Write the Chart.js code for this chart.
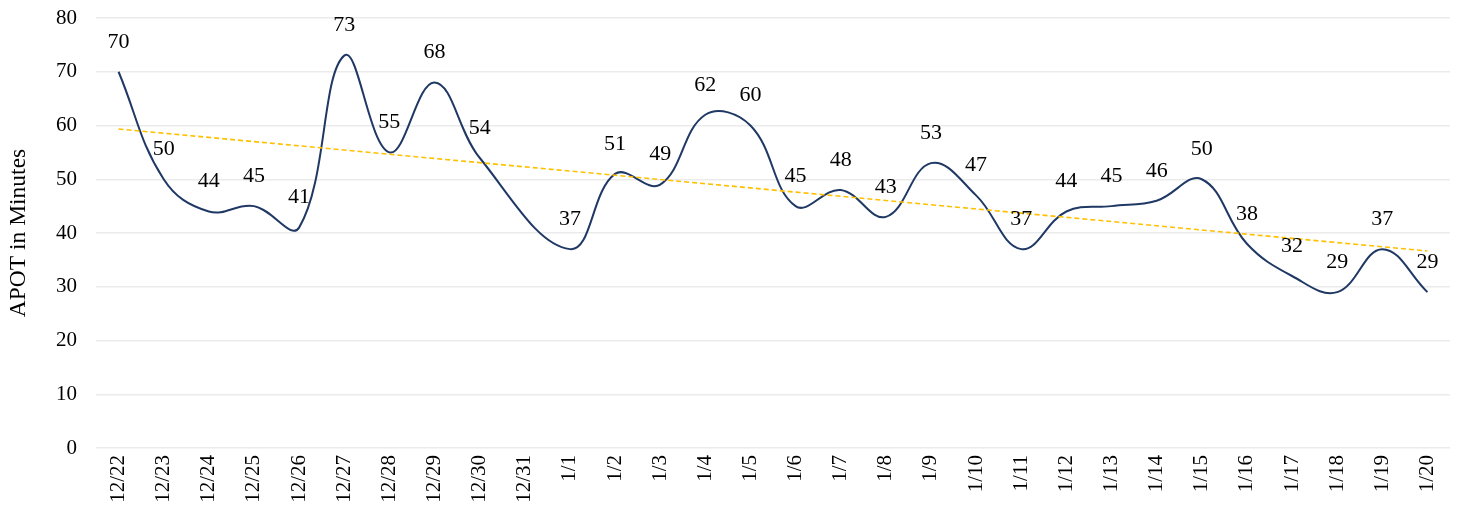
<!DOCTYPE html>
<html>
<head>
<meta charset="utf-8">
<script src="https://cdn.jsdelivr.net/npm/chart.js@4/dist/chart.umd.min.js"></script>
<style>
  html, body { margin: 0; padding: 0; background: #ffffff; }
  #wrap { width: 1459px; height: 508px; position: relative; }
</style>
</head>
<body>
<div id="wrap"><canvas id="c"></canvas></div>
<script>
// ---- data ----
const dates = ["12/22","12/23","12/24","12/25","12/26","12/27","12/28","12/29","12/30","12/31",
               "1/1","1/2","1/3","1/4","1/5","1/6","1/7","1/8","1/9","1/10",
               "1/11","1/12","1/13","1/14","1/15","1/16","1/17","1/18","1/19","1/20"];
const apotMinutes = [70, 50, 44, 45, 41, 73, 55, 68, 54, null,
                     37, 51, 49, 62, 60, 45, 48, 43, 53, 47,
                     37, 44, 45, 46, 50, 38, 32, 29, 37, 29];
const trendEnds = [59.35, 36.65];
const yTicks = [0, 10, 20, 30, 40, 50, 60, 70, 80];

const trendValues = dates.map((_, i) =>
  i === 0 ? trendEnds[0] : (i === dates.length - 1 ? trendEnds[1] : null));

const serif = "'Liberation Serif', 'Times New Roman', serif";

const labelPlugin = {
  id: 'pointLabels',
  afterDatasetsDraw(chart) {
    const meta = chart.getDatasetMeta(1);
    const ctx = chart.ctx;
    ctx.save();
    ctx.font = "22px " + serif;
    ctx.fillStyle = "#000000";
    ctx.textAlign = "center";
    ctx.textBaseline = "middle";
    meta.data.forEach((pt, i) => {
      const v = apotMinutes[i];
      if (v === null || v === undefined) return;
      ctx.fillText(String(v), pt.x, pt.y - 30);
    });
    ctx.restore();
  }
};

new Chart(document.getElementById('c'), {
  type: 'line',
  data: {
    labels: dates,
    datasets: [
      {
        label: 'Trend',
        data: trendValues,
        borderColor: '#FFC000',
        borderWidth: 1.6,
        borderDash: [5, 3],
        pointRadius: 0,
        tension: 0,
        spanGaps: true,
        fill: false
      },
      {
        label: 'APOT',
        data: apotMinutes,
        borderColor: '#1F3864',
        borderWidth: 2,
        pointRadius: 0,
        tension: 0.4,
        spanGaps: true,
        fill: false
      }
    ]
  },
  options: {
    responsive: true,
    maintainAspectRatio: false,
    animation: false,
    layout: { padding: { top: 18, right: 9, bottom: 0, left: 5 } },
    plugins: {
      legend: { display: false },
      tooltip: { enabled: false },
      title: { display: false }
    },
    scales: {
      x: {
        offset: true,
        grid: { display: false, drawTicks: false },
        border: { display: false },
        ticks: {
          minRotation: 90,
          maxRotation: 90,
          autoSkip: false,
          padding: 7,
          color: '#000000',
          font: { family: serif, size: 21 }
        },
        afterFit(scale) {
          scale.height = 60;
          scale.paddingLeft = 0; scale.paddingRight = 0;
          scale.paddingTop = 0; scale.paddingBottom = 0;
        }
      },
      y: {
        min: 0,
        max: 80,
        afterBuildTicks(scale) { scale.ticks = yTicks.map(v => ({ value: v })); },
        grid: { color: '#EBEBEB', lineWidth: 1.5, drawTicks: false },
        border: { display: false },
        ticks: {
          padding: 19,
          color: '#000000',
          font: { family: serif, size: 21 }
        },
        title: {
          display: true,
          text: 'APOT in Minutes',
          color: '#000000',
          font: { family: serif, size: 23.5 },
          padding: { top: 0, bottom: 0 }
        },
        afterFit(scale) {
          scale.width = 91;
          scale.paddingTop = 0; scale.paddingBottom = 0;
        }
      }
    }
  },
  plugins: [labelPlugin]
});
</script>
</body>
</html>
